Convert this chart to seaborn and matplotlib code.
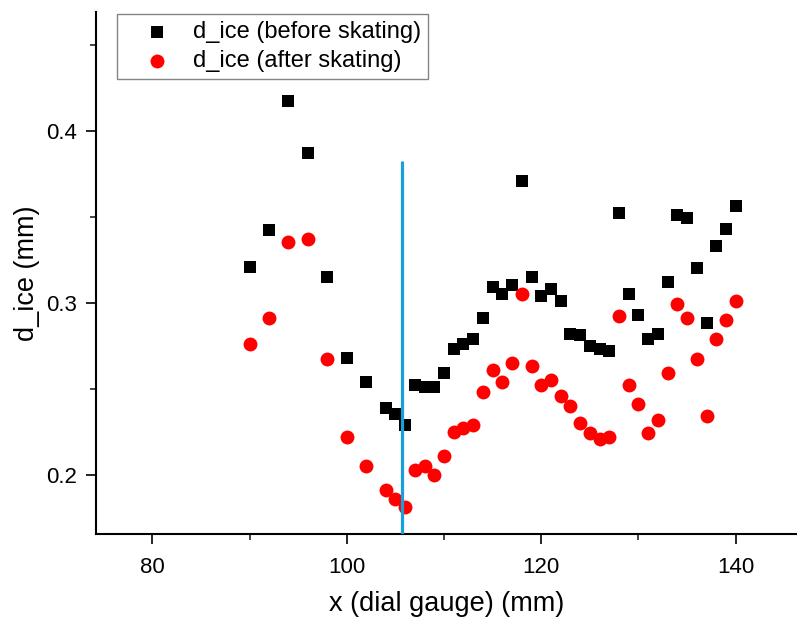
import numpy as np
import pandas as pd
import matplotlib
matplotlib.use("Agg")
import matplotlib.pyplot as plt
from matplotlib.ticker import MultipleLocator
import seaborn as sns

x_pos = [90, 92, 94, 96, 98, 100, 102, 104, 105, 106,
         107, 108, 109, 110, 111, 112, 113, 114, 115, 116, 117, 118, 119, 120,
         121, 122, 123, 124, 125, 126, 127, 128, 129, 130, 131, 132, 133, 134,
         135, 136, 137, 138, 139, 140]

d_before = [0.321, 0.342, 0.417, 0.387, 0.315, 0.268, 0.254, 0.239, 0.235, 0.229,
            0.252, 0.251, 0.251, 0.259, 0.273, 0.276, 0.279, 0.291, 0.309, 0.305,
            0.310, 0.371, 0.315, 0.304, 0.308, 0.301, 0.282, 0.281, 0.275, 0.273,
            0.272, 0.352, 0.305, 0.293, 0.279, 0.282, 0.312, 0.351, 0.349, 0.320,
            0.288, 0.333, 0.343, 0.356]

d_after = [0.276, 0.291, 0.335, 0.337, 0.267, 0.222, 0.205, 0.191, 0.186, 0.181,
           0.203, 0.205, 0.200, 0.211, 0.225, 0.227, 0.229, 0.248, 0.261, 0.254,
           0.265, 0.305, 0.263, 0.252, 0.255, 0.246, 0.240, 0.230, 0.224, 0.221,
           0.222, 0.292, 0.252, 0.241, 0.224, 0.232, 0.259, 0.299, 0.291, 0.267,
           0.234, 0.279, 0.290, 0.301]

marker_x = 105.7
marker_top = 0.3826

label_before = "d_ice (before skating)"
label_after = "d_ice (after skating)"

sns.set_style("ticks")
plt.rcParams['font.family'] = ['Liberation Sans', 'DejaVu Sans']
plt.rcParams['text.color'] = 'black'
plt.rcParams['axes.labelcolor'] = 'black'

fig = plt.figure(figsize=(7.97, 6.18), dpi=100)
ax = fig.add_axes([96 / 797, 84 / 618, 701 / 797, 522 / 618])

df_b = pd.DataFrame({"x": x_pos, "d": d_before})
df_a = pd.DataFrame({"x": x_pos, "d": d_after})

sns.scatterplot(data=df_b, x="x", y="d", marker="s", s=68, color="black",
                linewidth=0, ax=ax, label=label_before, zorder=3)
sns.scatterplot(data=df_a, x="x", y="d", marker="o", s=100, color="#ff0000",
                linewidth=0, ax=ax, label=label_after, zorder=3)

ax.plot([marker_x, marker_x], [0.1655, marker_top], color="#1a9fd9", lw=2.3,
        zorder=4, solid_capstyle="butt")

ax.set_xlim(74.21, 146.3)
ax.set_ylim(0.1655, 0.469)

ax.xaxis.set_major_locator(MultipleLocator(20))
ax.xaxis.set_minor_locator(MultipleLocator(10))
ax.yaxis.set_major_locator(MultipleLocator(0.1))
ax.yaxis.set_minor_locator(MultipleLocator(0.05))
ax.yaxis.set_major_formatter(matplotlib.ticker.FormatStrFormatter('%.1f'))

for s in ["top", "right"]:
    ax.spines[s].set_visible(False)
for s in ["left", "bottom"]:
    ax.spines[s].set_linewidth(1.5)
    ax.spines[s].set_color("black")

ax.tick_params(which="major", direction="out", length=7.5, width=1.2,
               labelsize=16, colors="black")
ax.tick_params(which="minor", direction="out", length=4.5, width=1.2)
ax.tick_params(axis="x", which="major", pad=9)
ax.tick_params(axis="y", which="major", pad=6)

ax.set_xlabel("x (dial gauge) (mm)", fontsize=19.5, labelpad=9.5, color="black")
ax.set_ylabel("d_ice (mm)", fontsize=19.5, labelpad=4.5, color="black")

leg = ax.legend(loc="upper left", bbox_to_anchor=(21 / 701, 1.0 - 2 / 522),
                fontsize=17, frameon=True, fancybox=False, edgecolor="#666666",
                handletextpad=0.15, borderpad=0.3, labelspacing=0.3,
                handlelength=2.75, borderaxespad=0, markerscale=1.0)
leg.get_frame().set_linewidth(1.0)
for t in leg.get_texts():
    t.set_color("black")

fig.savefig("out.png", dpi=100)
